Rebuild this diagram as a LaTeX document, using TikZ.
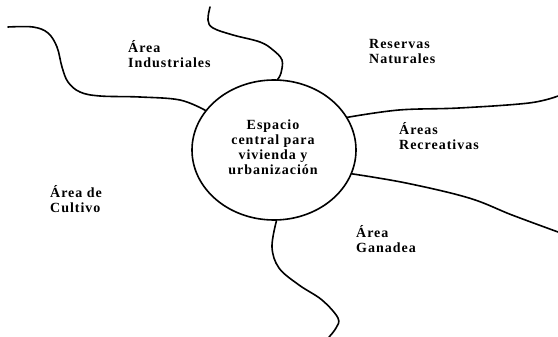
\documentclass[tikz,border=0pt]{standalone}
\usepackage{fontspec}
\setmainfont{Liberation Serif}
\newfontfamily\spaced[LetterSpace=7]{Liberation Serif}
\usetikzlibrary{shapes.geometric}
\begin{document}
\begin{tikzpicture}[x=1pt,y=-1pt,
  boundary/.style={line width=1.6pt, line cap=round},
  lbl/.style={font=\spaced\bfseries\fontsize{14}{15}\selectfont, align=left, inner sep=0pt, anchor=north west},
  centre/.style={ellipse, draw, line width=1.6pt, minimum width=164pt, minimum height=140pt, inner sep=0pt,
     align=center, font=\spaced\bfseries\fontsize{14}{15}\selectfont}]
\useasboundingbox (0,0) rectangle (558,337);
\node[centre] (c) at (274,150) {};
\node[align=center, inner sep=0pt, font=\spaced\bfseries\fontsize{14}{15}\selectfont] (ct) at (273,147) {Espacio\\central para\\vivienda y\\urbanización};
\draw[boundary] plot[smooth, tension=0.6] coordinates {(c.150) (180,100) (140,97) (100,96) (80,92) (68,82) (62,67) (57,47) (48,33) (33,27) (8,27)};
\draw[boundary] plot[smooth, tension=0.6] coordinates {(c.87) (281,73) (282,60) (273,50) (260,42) (233,35) (213,28) (208,20) (210,7)};
\draw[boundary] plot[smooth, tension=0.6] coordinates {(c.24) (399,110) (459,108) (529,103) (558,96)};
\draw[boundary] plot[smooth, tension=0.6] coordinates {(c.-17) (406,183) (469,198) (512,215) (558,232)};
\draw[boundary] plot[smooth, tension=0.6] coordinates {(c.-88) (272,247) (279,268) (299,285) (322,300) (338,318) (336,328) (329,337)};
\node[lbl] (ind) at (128,40) {Área\\Industriales};
\node[lbl] (res) at (369,39) {Reservas\\Naturales};
\node[lbl] (rec) at (399,122) {Áreas\\Recreativas};
\node[lbl] (cul) at (50,185) {Área de\\Cultivo};
\node[lbl] (gan) at (356,225) {Área\\Ganadea};
\end{tikzpicture}
\end{document}
